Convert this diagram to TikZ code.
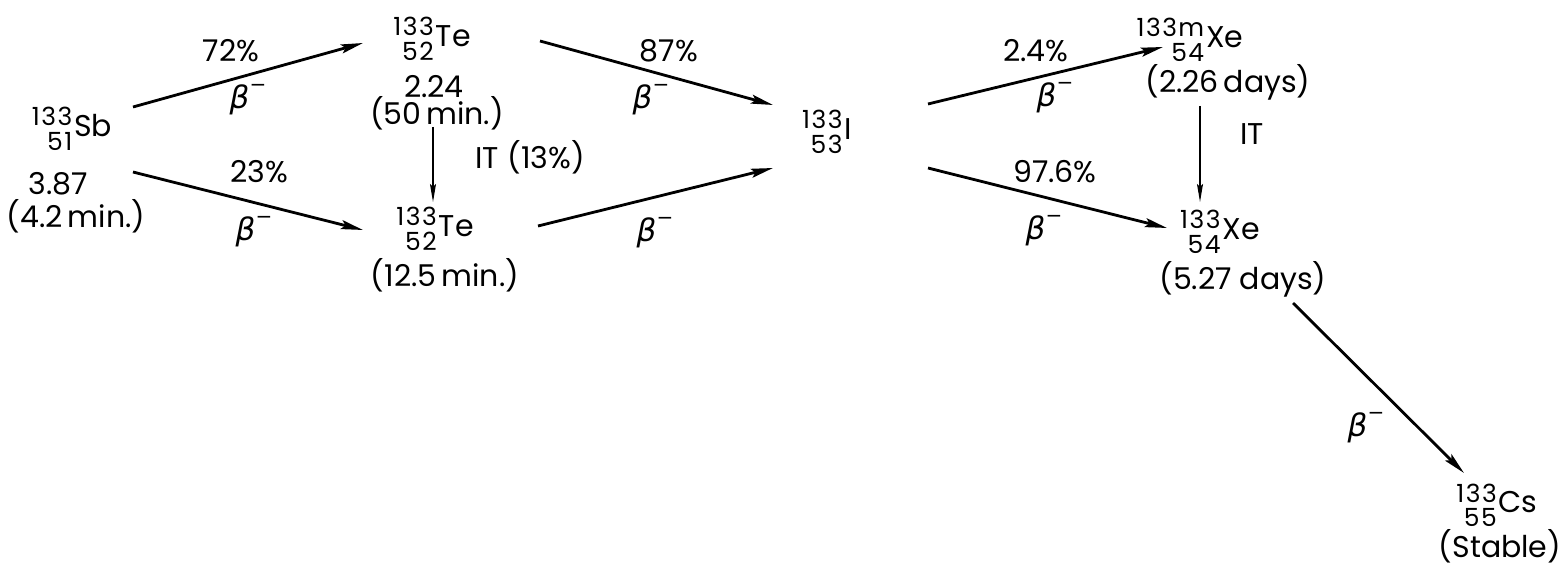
\documentclass[tikz,border=0pt]{standalone}
\usepackage{fontspec}
\setmainfont{Poppins}
\newfontfamily\grk{DejaVu Sans}
\newfontfamily\isofamily[LetterSpace=6]{Poppins}
\usetikzlibrary{arrows.meta,calc}
\newsavebox\isoa
\newsavebox\isob
\newlength\isow
\newcommand\mainsz{\fontsize{15}{17}\selectfont}
\newcommand\isonum{\isofamily\fontsize{12.5}{14}\selectfont}
\newcommand{\iso}[3]{\mbox{%
  \sbox\isoa{\isonum #1}\sbox\isob{\isonum #2}%
  \ifdim\wd\isoa>\wd\isob \setlength\isow{\wd\isoa}\else\setlength\isow{\wd\isob}\fi
  \raisebox{5.5pt}{\makebox[\isow][r]{\usebox\isoa}}%
  \kern-\isow
  \raisebox{-7pt}{\makebox[\isow][r]{\usebox\isob}}%
  \kern1pt#3}}
\newcommand\bmin{{\grk\itshape β}\raisebox{0.55em}{\fontsize{10}{10}\selectfont\grk −}}
\tikzset{
  nuc/.style={anchor=base, inner sep=0pt, font=\mainsz},
  txt/.style={anchor=base, inner sep=0pt, font=\mainsz},
  blab/.style={anchor=center, inner sep=0pt, font=\fontsize{15.5}{15.5}\selectfont},
  betaarr/.style={line width=1.4pt, -{Stealth[length=11pt,width=4.5pt,inset=2pt]}},
  itarr/.style={line width=0.65pt, -{Stealth[length=9pt,width=3pt,inset=1.5pt]}}
}
\begin{document}
\begin{tikzpicture}[x=0.5pt,y=-0.5pt]
\fill[white] (0,0) rectangle (1564,571);
\useasboundingbox (0,0) rectangle (1564,571);
% nuclides
\node[nuc] (sb)  at (72,137)   {\iso{133}{51}{Sb}};
\node[nuc] (te1) at (432,47)   {\iso{133}{52}{Te}};
\node[nuc] (te2) at (435,237)  {\iso{133}{52}{Te}};
\node[nuc] (i)   at (827,140)  {\iso{133}{53}{I}};
\node[nuc] (xem) at (1190,48)  {\iso{133m}{54}{Xe}};
\node[nuc] (xe)  at (1220,240) {\iso{133}{54}{Xe}};
\node[nuc] (cs)  at (1497,513) {\iso{133}{55}{Cs}};
% data
\node[txt] (sbq) at (58,195)   {3.87};
\node[txt] (sbt) at (76,228)   {(4.2\,min.)};
\node[txt] (teq) at (434,98)   {2.24};
\node[txt] (tet) at (437,125)  {(50\,min.)};
\node[txt] (te2t) at (445,287) {(12.5\,min.)};
\node[txt] (xemt) at (1228,93) {(2.26\,days)};
\node[txt] (xet) at (1243,290) {(5.27 days)};
\node[txt] (cst) at (1500,558) {(Stable)};
% branch labels
\node[txt] (p72) at (231,62)   {72\%};
\node[txt] (p23) at (259,183)  {23\%};
\node[txt] (p87) at (669,62)   {87\%};
\node[txt] (p24) at (1036,62)  {2.4\%};
\node[txt] (p976) at (1055,183) {97.6\%};
\node[txt] (it13) at (530,169) {IT\hspace{0.3em}(13\%)};
\node[txt] (it) at (1252,145)  {IT};
\node[blab] (b1) at (248,100)  {\bmin};
\node[blab] (b2) at (254,232)  {\bmin};
\node[blab] (b3) at (651,100)  {\bmin};
\node[blab] (b4) at (655,233)  {\bmin};
\node[blab] (b5) at (1055,98)  {\bmin};
\node[blab] (b6) at (1044,231) {\bmin};
\node[blab] (b7) at (1366,428) {\bmin};
% connectors
\draw[betaarr] ($(sb.base)+(61,-30)$) -- ($(te1.base)+(-69,-4)$);
\draw[betaarr] ($(sb.base)+(61,35)$) -- ($(te2.base)+(-72,-7)$);
\draw[itarr] ($(te1.base)+(1,80)$) -- ($(te2.base)+(-2,-35)$);
\draw[betaarr] ($(te1.base)+(108,-6)$) -- ($(i.base)+(-54,-35)$);
\draw[betaarr] ($(te2.base)+(103,-11)$) -- ($(i.base)+(-54,28)$);
\draw[betaarr] ($(i.base)+(101,-36)$) -- ($(xem.base)+(-27,-1)$);
\draw[betaarr] ($(i.base)+(101,28)$) -- ($(xe.base)+(-53,-12)$);
\draw[itarr] ($(xem.base)+(10,58)$) -- ($(xe.base)+(-20,-38)$);
\draw[betaarr] ($(xe.base)+(73,63)$) -- ($(cs.base)+(-33,-40)$);
\end{tikzpicture}
\end{document}
